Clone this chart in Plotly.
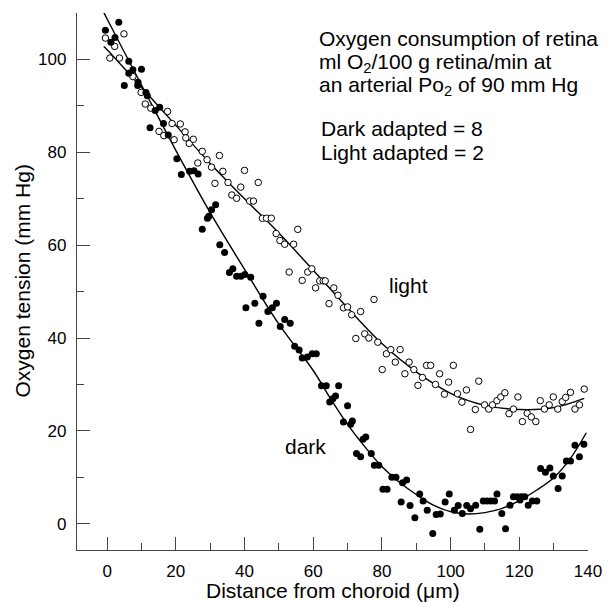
import plotly.graph_objects as go

# ---------------- data ----------------
dark_x = [-0.5, 1.1, 2.3, 3.4, 5.0, 6.3, 6.3, 7.5, 8.9, 9.0, 10.0, 11.3, 11.7, 12.5, 14.0, 15.3,
          16.4, 17.8, 20.3, 21.6, 24.0, 25.3, 26.5, 27.7, 29.2, 29.6, 30.4, 31.6, 32.8, 34.2,
          35.6, 36.6, 37.7, 39.0, 40.1, 40.4, 41.8, 43.0, 44.2, 45.4, 46.8, 48.1, 49.3, 50.4,
          51.7, 53.3, 54.6, 55.9, 56.8, 58.3, 59.7, 60.9, 62.4, 63.8, 64.8, 65.7, 66.5, 67.4,
          68.8, 70.0, 70.9, 71.4, 72.6, 73.8, 74.5, 75.3, 76.9, 77.8, 79.1, 80.3, 81.5, 82.9,
          84.1, 85.6, 86.0, 87.2, 88.2, 89.6, 91.0, 92.0, 93.2, 94.8, 95.8, 97.0, 98.4, 99.6,
          101.1, 102.2, 103.4, 104.7, 105.8, 107.3, 108.5, 109.5, 110.6, 111.7, 112.8, 113.5,
          114.9, 116.0, 117.3, 118.3, 119.4, 120.2, 120.6, 121.6, 122.6, 123.8, 125.1, 126.2,
          127.6, 128.9, 129.9, 131.3, 132.5, 133.7, 134.9, 136.2, 137.5, 138.8]
dark_y = [106.3, 103.7, 104.7, 108.0, 94.4, 99.6, 97.0, 97.8, 94.4, 95.1, 97.9, 92.9, 92.2, 85.3,
          89.0, 89.7, 86.2, 83.7, 78.6, 75.2, 75.9, 76.0, 75.3, 63.4, 65.8, 66.2, 67.6, 68.7,
          60.1, 58.4, 54.1, 54.9, 53.3, 53.3, 53.7, 46.5, 53.1, 47.5, 43.2, 49.0, 45.7, 46.5,
          47.5, 42.5, 44.0, 43.2, 38.2, 37.4, 35.7, 35.9, 36.6, 36.6, 29.7, 29.7, 26.2, 26.9,
          27.5, 29.7, 21.9, 25.4, 21.4, 22.1, 15.1, 14.4, 18.2, 18.7, 15.1, 12.6, 12.6, 7.4,
          7.4, 10.0, 10.0, 4.7, 8.8, 9.4, 3.9, 1.3, 6.4, 4.9, 2.9, -2.1, 2.0, 2.1, 4.7, 6.4,
          2.9, 3.9, 2.2, 3.9, 3.2, 4.0, -1.2, 4.9, 4.9, 4.9, 4.9, 6.4, 2.2, -1.1, 4.0, 5.8,
          5.8, 5.1, 5.8, 5.8, 4.0, 4.9, 4.9, 11.9, 11.1, 12.0, 10.3, 7.6, 10.3, 13.5, 13.5,
          16.9, 14.4, 17.1]

light_x = [-0.5, 0.8, 2.2, 3.6, 4.9, 7.5, 9.9, 11.1, 12.7, 15.1, 16.5, 17.6, 18.9, 19.5, 21.3,
           22.7, 22.9, 23.9, 25.1, 26.4, 27.7, 29.1, 30.4, 31.4, 32.7, 33.7, 35.2, 36.3, 37.7,
           38.9, 40.0, 41.5, 42.6, 44.0, 45.2, 46.4, 47.8, 49.2, 50.3, 51.7, 53.0, 54.3, 55.5,
           56.8, 58.4, 59.6, 60.7, 61.9, 62.9, 63.5, 64.6, 66.0, 67.2, 68.8, 70.0, 71.2, 72.4,
           73.8, 75.0, 76.2, 77.7, 78.8, 80.1, 81.3, 82.6, 83.9, 85.3, 86.7, 87.9, 89.3, 90.5,
           91.8, 93.0, 94.2, 95.6, 96.8, 98.2, 99.4, 100.8, 102.0, 103.3, 104.6, 105.8, 107.2,
           108.2, 109.9, 111.1, 112.2, 113.5, 114.6, 115.8, 117.0, 118.3, 119.6, 120.9, 122.3,
           123.5, 124.8, 126.1, 127.3, 128.7, 129.9, 131.2, 132.5, 133.5, 134.9, 136.2, 137.5,
           138.9]
light_y = [104.6, 100.3, 102.8, 100.3, 105.5, 96.3, 92.9, 90.4, 89.5, 84.5, 83.6, 88.8, 86.2,
           82.7, 86.1, 84.4, 83.1, 81.9, 82.8, 77.7, 80.2, 78.4, 76.8, 73.3, 79.3, 75.9, 73.5,
           70.8, 70.1, 72.5, 76.1, 69.5, 69.5, 73.5, 65.8, 65.8, 65.8, 62.5, 61.0, 60.2, 54.2,
           60.2, 63.4, 52.4, 54.2, 54.9, 50.8, 52.3, 52.3, 52.3, 47.4, 50.8, 49.2, 46.5, 46.7,
           45.0, 39.9, 45.7, 40.9, 40.0, 48.3, 39.1, 33.2, 36.6, 37.5, 34.8, 37.5, 32.3, 34.8,
           33.2, 29.8, 31.5, 34.1, 34.1, 30.0, 32.3, 27.9, 30.5, 34.1, 28.0, 26.2, 28.8, 20.3,
           24.6, 30.7, 25.6, 24.7, 25.6, 26.5, 27.3, 28.2, 23.7, 24.7, 27.3, 22.0, 23.8, 23.0,
           22.0, 26.5, 24.7, 25.6, 27.3, 24.7, 26.3, 27.2, 28.3, 24.7, 25.6, 29.0]

# fitted curves
dark_fit_x = [-1, 0, 10, 20, 30, 40, 50, 60, 65, 70, 75, 80, 85, 90, 95, 100, 105, 110, 115,
              120, 125, 130, 135, 139.5]
dark_fit_y = [110.2, 108.7, 94.5, 80.4, 67.0, 54.8, 43.0, 33.0, 27.0, 21.4, 16.6, 12.3, 9.0,
              6.3, 4.0, 2.6, 2.1, 2.4, 3.3, 5.0, 7.2, 9.9, 14.2, 19.6]
light_fit_x = [-1, 0, 10, 20, 30, 40, 50, 60, 70, 80, 90, 100, 110, 120, 130, 138.9]
light_fit_y = [102.8, 102.1, 94.0, 85.8, 77.6, 70.0, 62.6, 54.6, 46.5, 38.8, 32.7, 28.1,
               25.5, 24.6, 25.0, 27.0]

x_ticks = [0, 20, 40, 60, 80, 100, 120, 140]
y_ticks = [0, 20, 40, 60, 80, 100]

FONT = "Liberation Sans, Arial, Helvetica, sans-serif"
AX = "#444444"

fig = go.Figure()
fig.add_trace(go.Scatter(x=light_fit_x, y=light_fit_y, mode="lines",
                         line=dict(color="black", width=1.4, shape="spline"),
                         hoverinfo="skip", showlegend=False))
fig.add_trace(go.Scatter(x=dark_fit_x, y=dark_fit_y, mode="lines",
                         line=dict(color="black", width=1.4, shape="spline"),
                         hoverinfo="skip", showlegend=False))
fig.add_trace(go.Scatter(x=light_x, y=light_y, mode="markers", name="light",
                         marker=dict(symbol="circle", size=6.5, color="white",
                                     line=dict(color="black", width=1)),
                         showlegend=False))
fig.add_trace(go.Scatter(x=dark_x, y=dark_y, mode="markers", name="dark",
                         marker=dict(symbol="circle", size=7, color="black",
                                     line=dict(width=0)),
                         showlegend=False))


def axis_style(ticks):
    step = ticks[1] - ticks[0]
    return dict(
        showgrid=False, zeroline=False, showline=True, linecolor=AX, linewidth=1.3,
        tickmode="linear", tick0=ticks[0], dtick=step,
        ticks="inside", ticklen=13, tickwidth=1, tickcolor=AX,
        tickfont=dict(family=FONT, size=17, color="black"),
        minor=dict(ticks="inside", ticklen=7, tickwidth=1, tickcolor=AX,
                   tick0=ticks[0], dtick=step / 2, showgrid=False),
        mirror=False,
    )


fig.update_xaxes(range=[-8.77, 140], ticklabelstandoff=5, **axis_style(x_ticks))
fig.update_yaxes(range=[-5.66, 110], ticklabelstandoff=6, **axis_style(y_ticks))

ann_font = dict(family=FONT, size=21, color="black")
annotations = [
    dict(x=87.6, y=51.4, xref="x", yref="y", text="light", showarrow=False, font=ann_font),
    dict(x=57.7, y=16.6, xref="x", yref="y", text="dark", showarrow=False, font=ann_font),
    dict(x=321, y=39, xref="paper", yref="paper", text="Oxygen consumption of retina",
         showarrow=False, font=ann_font, xanchor="left"),
    dict(x=321, y=62.5, xref="paper", yref="paper", text="ml O<sub>2</sub>/100 g retina/min at",
         showarrow=False, font=ann_font, xanchor="left"),
    dict(x=321, y=86, xref="paper", yref="paper", text="an arterial Po<sub>2</sub> of 90 mm Hg",
         showarrow=False, font=ann_font, xanchor="left"),
    dict(x=323, y=128, xref="paper", yref="paper", text="Dark adapted = 8",
         showarrow=False, font=ann_font, xanchor="left"),
    dict(x=323, y=152, xref="paper", yref="paper", text="Light adapted = 2",
         showarrow=False, font=ann_font, xanchor="left"),
]

# convert pixel positions of the text block into paper coordinates
L, R, T, B = 77, 18, 13, 52
W, H = 614, 602
pw, ph = W - L - R, H - T - B
for a in annotations:
    if a["xref"] == "paper":
        a["x"] = (a["x"] - L) / pw
        a["y"] = 1 - (a["y"] - T) / ph
        a["yanchor"] = "middle"

annotations.append(dict(x=0.5, y=0, xref="paper", yref="paper", yanchor="middle",
                        yshift=-40, text="Distance from choroid (\u03bcm)", showarrow=False,
                        font=dict(family=FONT, size=21, color="black")))
annotations.append(dict(x=0, y=0.5, xref="paper", yref="paper", xanchor="center",
                        xshift=-55, textangle=-90, text="Oxygen tension (mm Hg)",
                        showarrow=False, font=dict(family=FONT, size=21, color="black")))

fig.update_layout(
    width=W, height=H,
    margin=dict(l=L, r=R, t=T, b=B, pad=0),
    plot_bgcolor="white", paper_bgcolor="white",
    annotations=annotations,
    font=dict(family=FONT, color="black"),
)

fig.write_html("out.html",
               config={"displayModeBar": False},
               post_script="document.body.style.margin='0';document.body.style.padding='0';"
                           "document.body.style.overflow='hidden';")
